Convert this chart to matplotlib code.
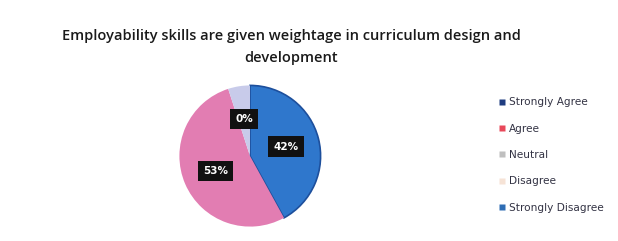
import matplotlib
matplotlib.use("Agg")
import matplotlib.pyplot as plt
import numpy as np
from matplotlib.lines import Line2D

categories = ["Strongly Agree", "Agree", "Neutral", "Disagree", "Strongly Disagree"]
values = [42, 53, 5, 0, 0]
value_labels = ["42%", "53%", "0%", "", ""]
slice_colors = ["#2F77CC", "#E27DB2", "#C8CBEA", "#F7E2D3", "#2E6DB4"]
legend_colors = ["#1F3C80", "#E8485A", "#BFBFBF", "#F6E3D6", "#2E6DB4"]
title_lines = ["Employability skills are given weightage in curriculum design and",
               "development"]

W, H = 618, 241
fig = plt.figure(figsize=(W / 100, H / 100), dpi=100)
fig.patch.set_facecolor("white")

cx, cy, r = 250, 156, 72
ax = fig.add_axes([(cx - r) / W, (H - cy - r) / H, 2 * r / W, 2 * r / H])
wedges, _ = ax.pie(values, colors=slice_colors, startangle=90, counterclock=False,
                   wedgeprops=dict(linewidth=0))
wedges[0].set_edgecolor("#1D4F9C")
wedges[0].set_linewidth(1.2)
ax.set_aspect("equal")
ax.set_xlim(-1.02, 1.02)
ax.set_ylim(-1.02, 1.02)

for w, lab in zip(wedges, value_labels):
    if not lab:
        continue
    ang = np.deg2rad((w.theta1 + w.theta2) / 2)
    d = 0.53
    ax.text(d * np.cos(ang), d * np.sin(ang), lab, ha="center", va="center",
            color="white", fontsize=7.5, fontweight="bold", family="DejaVu Sans",
            bbox=dict(boxstyle="square,pad=0.5", fc="#111111", ec="none"))

fig.text(291 / W, 1 - 36 / H, title_lines[0], ha="center", va="center", fontsize=10.5,
         family="Open Sans", fontweight="semibold", color="#1a1a1a")
fig.text(291 / W, 1 - 58 / H, title_lines[1], ha="center", va="center", fontsize=10.5,
         family="Open Sans", fontweight="semibold", color="#1a1a1a")

handles = [Line2D([0], [0], marker="s", linestyle="none", markersize=4.2,
                  markerfacecolor=c, markeredgecolor="none") for c in legend_colors]
leg = fig.legend(handles, categories, loc="upper left", bbox_to_anchor=(494 / W, 1 - 93 / H),
                 frameon=False, fontsize=7.6, labelspacing=1.55, handletextpad=0.25,
                 handlelength=0.8, borderaxespad=0)
for t in leg.get_texts():
    t.set_color("#333344")

fig.savefig("out.png", dpi=100, facecolor="white")
